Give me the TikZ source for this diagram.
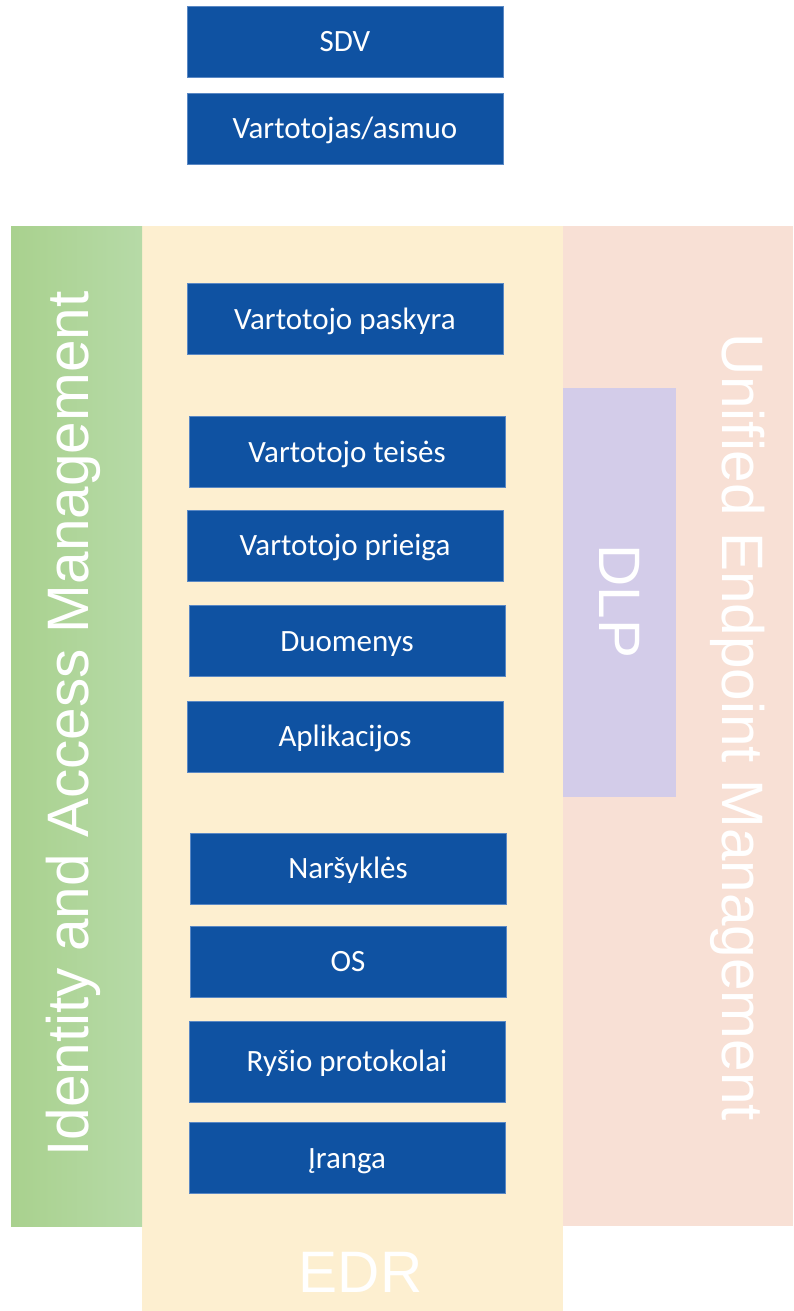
\documentclass[tikz,border=0pt]{standalone}
\usepackage{fontspec}
\setmainfont{Carlito}
\newfontfamily\arialf{Liberation Sans}
\definecolor{boxblue}{HTML}{0F52A2}
\definecolor{boxline}{HTML}{5A88C4}
\definecolor{greenL}{HTML}{A9D18E}
\definecolor{greenR}{HTML}{B6DAA7}
\definecolor{cream}{HTML}{FDEFD0}
\definecolor{pinkbg}{HTML}{F8E0D5}
\definecolor{lav}{HTML}{D3CCE9}
\tikzset{
  bluebox/.style={draw=boxline, line width=0.8pt, fill=boxblue, text=white,
    minimum width=316pt, minimum height=71pt, inner sep=0pt,
    text height=20pt, text depth=0pt, font=\fontsize{31}{36}\selectfont},
  biglabel/.style={text=white, anchor=base, inner sep=0pt,
    font=\arialf\fontsize{58.5}{64}\selectfont}
}
\begin{document}
\begin{tikzpicture}[x=1pt,y=1pt]
\useasboundingbox (0,0) rectangle (793,-1311);
% background bands
\fill[cream] (142,-226) rectangle (563,-1311);
\shade[left color=greenL, right color=greenR] (11,-226) rectangle (142,-1226);
\fill[pinkbg] (563,-226) rectangle (793,-1226);
\fill[lav] (563,-388) rectangle (676,-797);
% big labels
\node[biglabel, rotate=90] (iam) at (88,-724) {Identity and Access Management};
\node[biglabel, rotate=-90] (uem) at (722.7,-727.5) {Unified Endpoint Management};
\node[biglabel, rotate=-90] (dlp) at (599,-601.5) {DLP};
\node[biglabel] (edr) at (360.5,-1292) {EDR};
% blue boxes
\node[bluebox] (sdv) at (345,-42) {SDV};
\node[bluebox] (asm) at (345,-129) {Vartotojas/asmuo};
\node[bluebox] (pas) at (345,-319) {Vartotojo paskyra};
\node[bluebox] (tei) at (347,-452) {Vartotojo teisės};
\node[bluebox] (pri) at (345,-545.5) {Vartotojo prieiga};
\node[bluebox] (duo) at (347,-641) {Duomenys};
\node[bluebox] (apl) at (345,-736.5) {Aplikacijos};
\node[bluebox] (nar) at (348,-868.5) {Naršyklės};
\node[bluebox] (os) at (348,-961.5) {OS};
\node[bluebox, minimum height=81pt] (rys) at (347,-1061.5) {Ryšio protokolai};
\node[bluebox] (ira) at (347,-1158) {Įranga};
\end{tikzpicture}
\end{document}
